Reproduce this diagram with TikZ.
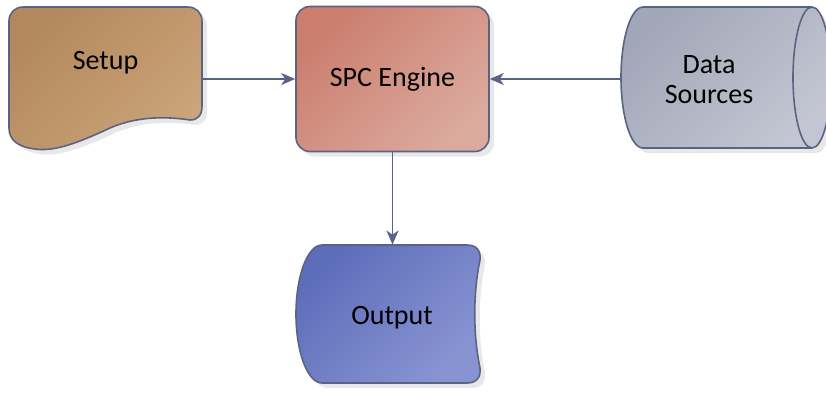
\documentclass[tikz,border=0pt]{standalone}
\usepackage{fontspec}
\setmainfont{Carlito}
\usetikzlibrary{shapes,shapes.geometric,arrows.meta,calc,positioning,shadows}

\definecolor{edge}{HTML}{5B6385}
\definecolor{setupA}{HTML}{B3885C}
\definecolor{setupB}{HTML}{CBA479}
\definecolor{spcA}{HTML}{CB7E6D}
\definecolor{spcB}{HTML}{DBAA9F}
\definecolor{dataA}{HTML}{A2A7B8}
\definecolor{dataB}{HTML}{C3C6D2}
\definecolor{outA}{HTML}{5E6DBA}
\definecolor{outB}{HTML}{8894D2}

\begin{document}
\begin{tikzpicture}[x=0.5pt, y=-0.5pt, arrow/.style = {draw=edge, line width=0.8pt, -{Stealth[length=7pt,width=6pt,inset=2pt]}}]
		\tikzset{flowshape/.style 2 args={draw=edge, line width=0.8pt, top color=#1, bottom color=#2, shading angle=45, drop shadow={shadow xshift=2.5pt, shadow yshift=-2.5pt, fill=black!18}}}
		\tikzset{txt/.style={font=\fontsize{14}{15}\selectfont, align=center, inner sep=0pt}}

		\clip (0,0) rectangle (826,393);

		% Setup (document)
		\path[flowshape={setupA}{setupB}] (9,128) -- (9,21) .. controls (9,13) and (15,7) .. (23,7) -- (188,7) .. controls (196,7) and (202,13) .. (202,21) -- (202,106) .. controls (202,115) and (198,120) .. (190,120) .. controls (170,117) and (140,115) .. (110,128) .. controls (80,142) and (55,152) .. (35,149) .. controls (18,147) and (9,140) .. (9,128) -- cycle;

		% SPC Engine
		\node[flowshape={spcA}{spcB}, rounded corners=7pt, minimum width=96.5pt, minimum height=72.5pt, txt] (spc) at (392.5,79) {SPC Engine};

		% Data Sources (cylinder)
		\path[flowshape={dataA}{dataB}] (643,7) -- (812,7) .. controls (822.5,7) and (831,38.6) .. (831,77.5) .. controls (831,116.4) and (822.5,148) .. (812,148) -- (643,148) .. controls (630.8,148) and (621,116.4) .. (621,77.5) .. controls (621,38.6) and (630.8,7) .. (643,7) -- cycle;
		\draw[draw=edge, line width=0.8pt] (812,7) .. controls (801.5,7) and (793,38.6) .. (793,77.5) .. controls (793,116.4) and (801.5,148) .. (812,148);

		% Output (stored data)
		\path[flowshape={outA}{outB}] (322,245) -- (467,245) .. controls (476,245) and (481,250) .. (480,260) .. controls (473,293) and (473,335) .. (480,368) .. controls (481,378) and (476,383) .. (467,383) -- (322,383) .. controls (307.6,383) and (296,352.1) .. (296,314) .. controls (296,275.9) and (307.6,245) .. (322,245) -- cycle;

		% Labels
		\node[txt, minimum width=96.5pt] (setup) at (105.5,63) {Setup};
		\node[txt, minimum width=88pt] (data) at (709,80) {Data\\Sources};
		\node[txt, minimum height=73pt] (output) at (392,318) {Output};

		% Arrows
		\draw [arrow] (setup.east |- spc.west) -- (spc.west);
		\draw [arrow] (data.west |- spc.east) -- (spc.east);
		\draw [arrow] (spc.south) -- (spc.south |- output.north);

	\end{tikzpicture}
\end{document}
